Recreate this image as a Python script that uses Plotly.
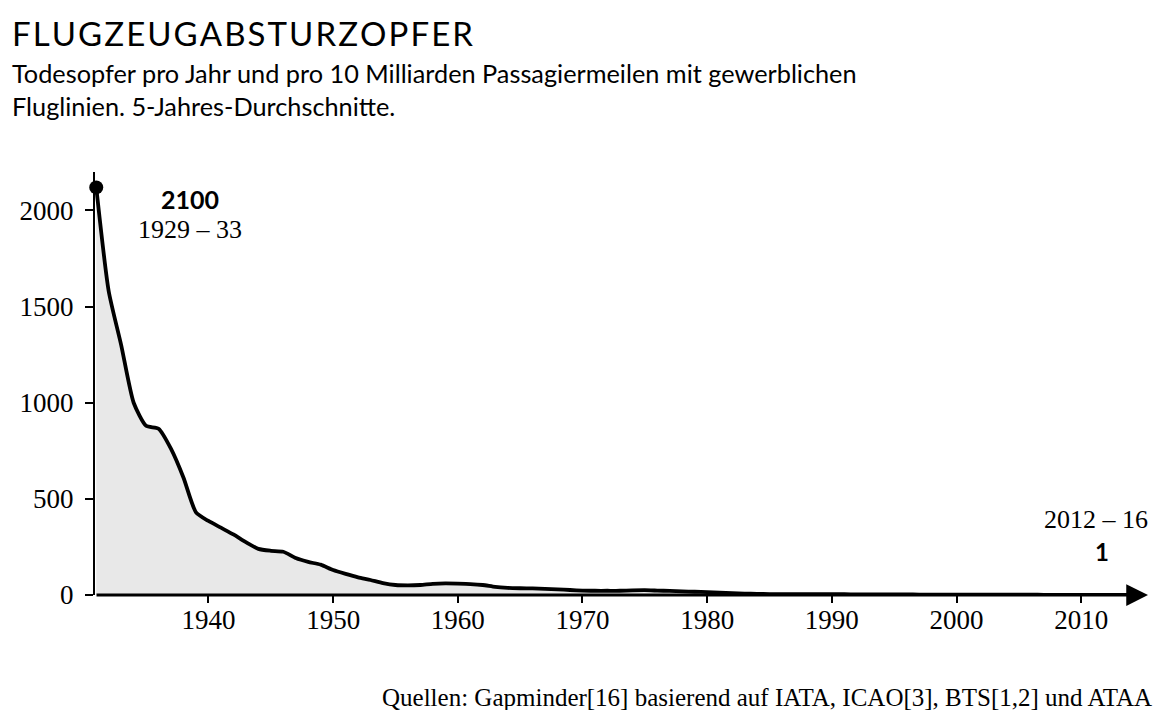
import plotly.graph_objects as go

years = list(range(1931, 2015))
deaths = [2120, 1580, 1300, 1000, 880, 865, 760, 610, 430, 385,
          350, 315, 275, 240, 230, 225, 192, 172, 158, 130,
          110, 92, 78, 62, 52, 50, 52, 58, 60, 59,
          57, 52, 42, 37, 35, 34, 32, 29, 26, 23,
          22, 22, 22, 24, 25, 23, 21, 19, 17, 15,
          12, 9, 7, 6, 5, 5, 4, 4, 4, 4,
          4, 3, 3, 3, 3, 3, 2, 2, 2, 2,
          2, 2, 2, 2, 2, 2, 1, 1, 1, 1,
          1, 1, 1, 1]

x_ticks = [1940, 1950, 1960, 1970, 1980, 1990, 2000, 2010]
y_ticks = [0, 500, 1000, 1500, 2000]

title = "FLUGZEUGABSTURZOPFER"
subtitle = "Todesopfer pro Jahr und pro 10 Milliarden Passagiermeilen mit gewerblichen<br>Fluglinien. 5-Jahres-Durchschnitte."
source = "Quellen: Gapminder[16] basierend auf IATA, ICAO[3], BTS[1,2] und ATAA"

SANS = "Lato, 'Noto Sans', sans-serif"
SERIF = "'Liberation Serif', 'DejaVu Serif', serif"

# page body has an 8px margin; keep the plot area where the reference has it
W, H = 1160, 702
L, R, T, B = 84, 20, 164, 115
PW = W - L - R  # 1056
PH = H - T - B  # 423


def px(ref_x):
    return (ref_x - 92) / PW


def py(ref_y):
    return (595 - ref_y) / PH


fig = go.Figure()
fig.add_trace(go.Scatter(
    x=years, y=deaths, mode="lines", line=dict(color="black", width=3.8, shape="spline", smoothing=0.6),
    fill="tozeroy", fillcolor="#e8e8e8", cliponaxis=False, hoverinfo="skip"))
fig.add_trace(go.Scatter(
    x=[years[0]], y=[deaths[0]], mode="markers", marker=dict(color="black", size=14),
    cliponaxis=False, hoverinfo="skip"))

X0, X1 = 1930.9, 2015.36

spaced_title = "\u200a".join(title)

annotations = [
    dict(x=X1, y=0, ax=X0, ay=0, xref="x", yref="y", axref="x", ayref="y",
         showarrow=True, arrowhead=2, arrowwidth=3, arrowsize=1.45, arrowcolor="black", text=""),
    dict(xref="paper", yref="paper", x=px(7), y=py(33), xanchor="left", yanchor="middle",
         text=spaced_title, showarrow=False, font=dict(family=SANS, size=33, color="black")),
    dict(xref="paper", yref="paper", x=px(7), y=py(90), xanchor="left", yanchor="middle",
         text=subtitle, showarrow=False, align="left", font=dict(family=SANS, size=25.3, color="black")),
    dict(xref="x", yref="paper", x=1938.5, y=py(199), xanchor="center", yanchor="middle",
         text="<b>2100</b>", showarrow=False, font=dict(family=SANS, size=25, color="black")),
    dict(xref="x", yref="paper", x=1938.5, y=py(229), xanchor="center", yanchor="middle",
         text="1929 – 33", showarrow=False, font=dict(family=SERIF, size=26, color="black")),
    dict(xref="paper", yref="paper", x=px(1150), y=py(519), xanchor="right", yanchor="middle",
         text="2012 – 16", showarrow=False, font=dict(family=SERIF, size=26, color="black")),
    dict(xref="x", yref="paper", x=2011.7, y=py(551), xanchor="center", yanchor="middle",
         text="<b>1</b>", showarrow=False, font=dict(family=SANS, size=24, color="black")),
    dict(xref="paper", yref="paper", x=px(1154), y=py(697), xanchor="right", yanchor="middle",
         text=source, showarrow=False, font=dict(family=SERIF, size=25, color="black")),
]

fig.update_layout(
    width=W, height=H,
    margin=dict(l=L, r=R, t=T, b=B),
    paper_bgcolor="white", plot_bgcolor="white",
    showlegend=False,
    annotations=annotations,
    xaxis=dict(range=[X0, X1], tickvals=x_ticks, ticktext=[str(v) for v in x_ticks],
               ticks="outside", ticklen=7, tickwidth=1.5, tickcolor="black",
               showgrid=False, zeroline=False, showline=False,
               ticklabelstandoff=-6,
               tickfont=dict(family=SERIF, size=27, color="black")),
    yaxis=dict(range=[0, 2200], tickvals=y_ticks, ticktext=[str(v) for v in y_ticks],
               ticks="outside", ticklen=8, tickwidth=1.5, tickcolor="black",
               showgrid=False, zeroline=False, showline=True, linecolor="black", linewidth=2,
               ticklabelstandoff=6,
               tickfont=dict(family=SERIF, size=27, color="black")),
)

fig.write_html("out.html")
